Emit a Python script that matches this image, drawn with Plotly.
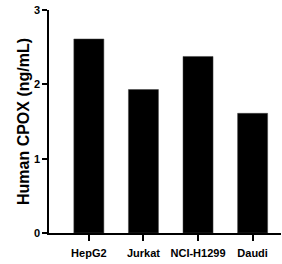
import plotly.graph_objects as go

categories = ["HepG2", "Jurkat", "NCI-H1299", "Daudi"]
values = [2.61, 1.93, 2.375, 1.61]
y_ticks = [0, 1, 2, 3]

fig = go.Figure()
fig.add_trace(go.Bar(
    x=categories, y=values, width=0.55,
    marker=dict(color="black", line=dict(color="#444", width=0.5)),
))
fig.update_layout(
    width=282, height=264,
    margin=dict(l=49, r=1, t=10, b=31),
    plot_bgcolor="white", paper_bgcolor="white",
    showlegend=False,
    font=dict(family="Arial, Liberation Sans", color="black"),
)
fig.update_xaxes(
    range=[-0.73, 3.52], showline=True, linecolor="black", linewidth=1.5,
    ticks="outside", ticklen=6, tickwidth=1.5, tickcolor="black",
    tickfont=dict(size=11, weight="bold"), ticklabelstandoff=3,
    showgrid=False, zeroline=False,
)
fig.update_yaxes(
    range=[0, 3], tickvals=y_ticks, showline=True, linecolor="black", linewidth=1.5,
    ticks="outside", ticklen=5, tickwidth=1.5, tickcolor="black",
    tickfont=dict(size=11, weight="bold"),
    showgrid=False, zeroline=False,
    title=dict(text="Human CPOX (ng/mL)", font=dict(size=16, weight="bold"), standoff=0),
)
fig.write_html("out.html", config={"displayModeBar": False},
               post_script="document.body.style.margin='0';")
